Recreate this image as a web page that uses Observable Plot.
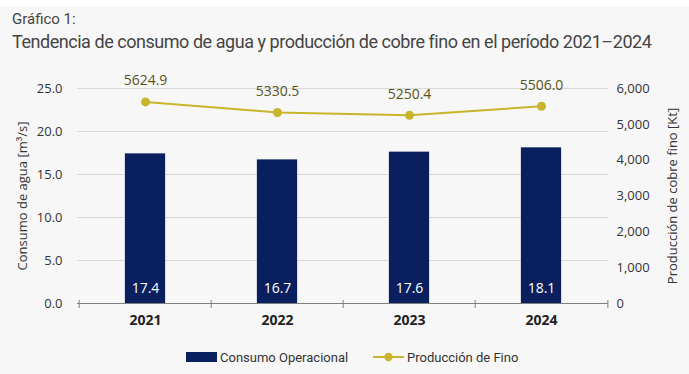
<!DOCTYPE html>
<html><head><meta charset="utf-8">
<script src="https://cdn.jsdelivr.net/npm/d3@7"></script>
<script src="https://cdn.jsdelivr.net/npm/@observablehq/plot@0.6"></script>
<style>
html,body{margin:0;padding:0;background:#fff;width:689px;height:374px;overflow:hidden;}
#panel{position:absolute;top:6px;left:0;width:689px;height:368px;background:#f7f7f7;}
#t1{position:absolute;left:12px;top:4px;font:15px Roboto;color:#444;white-space:nowrap;}
#t2{position:absolute;left:12px;top:25px;font:18px Roboto;color:#444;white-space:nowrap;letter-spacing:-0.46px;}
#chart{position:absolute;left:0;top:54px;}
#legend{position:absolute;left:0;top:340px;width:689px;height:22px;font:13px Roboto;color:#333;}
.li{position:absolute;top:4px;white-space:nowrap;}
</style></head>
<body>
<div id="panel">
  <div id="t1">Gráfico 1:</div>
  <div id="t2">Tendencia de consumo de agua y producción de cobre fino en el período 2021–2024</div>
  <div id="chart"></div>
  <div id="legend"></div>
</div>
<script>
const years = ["2021", "2022", "2023", "2024"];
const consumo = [17.4, 16.7, 17.6, 18.1];
const produccion = [5624.9, 5330.5, 5250.4, 5506.0];
const leftTicks = [0, 5, 10, 15, 20, 25];
const rightTicks = [0, 1000, 2000, 3000, 4000, 5000, 6000];
const seriesNames = ["Consumo Operacional", "Producción de Fino"];
const colors = {bar: "#0a1f5e", line: "#c9b52c", lineText: "#5a531a"};

const leftMax = leftTicks[leftTicks.length - 1];
const rightMax = rightTicks[rightTicks.length - 1];
const k = leftMax / rightMax;
const data = years.map((y, i) => ({year: y, consumo: consumo[i], prod: produccion[i], prodScaled: produccion[i] * k}));

const W = 689, H = 280, mL = 77, mR = 81;
const step = (W - mL - mR) / years.length;
const barW = 41;

const chart = Plot.plot({
  width: W, height: H, marginLeft: mL, marginRight: mR, marginTop: 28, marginBottom: 37,
  style: {background: "transparent", fontFamily: "'Open Sans'", fontSize: "13px", color: "#333", overflow: "visible"},
  x: {domain: years, padding: 0, label: null},
  y: {domain: [0, leftMax], label: null},
  marks: [
    Plot.gridY(leftTicks.slice(1), {stroke: "#d9d9d9", strokeOpacity: 1}),
    Plot.axisY(leftTicks, {anchor: "left", tickSize: 0, tickPadding: 15, tickFormat: d3.format(".1f"),
      label: "Consumo de agua [m³/s]", labelAnchor: "center", labelArrow: "none", labelOffset: 60}),
    Plot.axisY(rightTicks.map(v => v * k), {anchor: "right", tickSize: 0, tickPadding: 8,
      tickFormat: d => d3.format(",")(Math.round(d / k)),
      label: "Producción de cobre fino [Kt]", labelAnchor: "center", labelArrow: "none", labelOffset: 68}),
    Plot.barY(data, {x: "year", y: "consumo", fill: colors.bar, insetLeft: (step - barW) / 2, insetRight: (step - barW) / 2}),
    Plot.ruleY([0], {stroke: "#808080"}),
    Plot.ruleX(years, {y1: 0, y2: 0, insetTop: -3, insetBottom: -5, dx: -step / 2, stroke: "#808080"}),
    Plot.ruleX(years.slice(-1), {y1: 0, y2: 0, insetTop: -3, insetBottom: -5, dx: step / 2, stroke: "#808080"}),
    Plot.axisX({tickSize: 0, tickPadding: 12, fontWeight: "bold", fontSize: 14, fill: "#222", label: null}),
    Plot.text(data, {x: "year", y: 0, text: d => d3.format(".1f")(d.consumo), fill: "white", dy: -15, fontSize: 14}),
    Plot.line(data, {x: "year", y: "prodScaled", stroke: colors.line, strokeWidth: 2}),
    Plot.dot(data, {x: "year", y: "prodScaled", r: 4.5, fill: colors.line}),
    Plot.text(data, {x: "year", y: "prodScaled", text: d => d.prod.toFixed(1), dy: -21, fill: colors.lineText, fontSize: 14})
  ]
});
document.getElementById("chart").appendChild(chart);

const lg = document.getElementById("legend");
lg.innerHTML = `
  <svg style="position:absolute;left:186px;top:6px" width="31" height="10"><rect width="31" height="10" fill="${colors.bar}"/></svg>
  <div class="li" style="left:220px">${seriesNames[0]}</div>
  <svg style="position:absolute;left:373px;top:5px" width="31" height="12"><line x1="0" x2="31" y1="6" y2="6" stroke="${colors.line}" stroke-width="2"/><circle cx="15.5" cy="6" r="4.2" fill="${colors.line}"/></svg>
  <div class="li" style="left:407px">${seriesNames[1]}</div>`;
</script>
</body></html>
